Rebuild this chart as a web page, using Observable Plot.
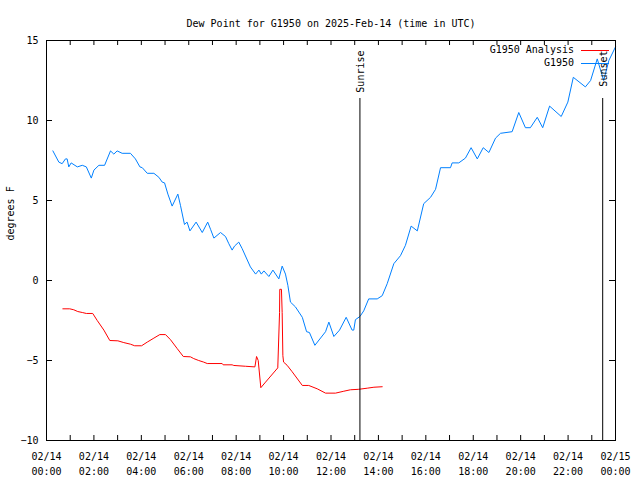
<!DOCTYPE html>
<html><head><meta charset="utf-8">
<script src="https://cdn.jsdelivr.net/npm/d3@7"></script>
<script src="https://cdn.jsdelivr.net/npm/@observablehq/plot@0.6"></script>
<style>body{margin:0;background:#fff} svg{display:block}</style>
</head><body><div id="chart"></div>
<script>
const title = "Dew Point for G1950 on 2025-Feb-14 (time in UTC)";
const yLabel = "degrees F";
const seriesNames = ["G1950 Analysis", "G1950"];
const seriesColors = ["#ff0000", "#0080ff"];

const analysisHours = [0.69,0.98,1.15,1.32,1.51,1.68,1.95,2.14,2.42,2.67,3.01,3.26,3.54,3.72,4.01,4.25,4.53,4.78,5.02,5.23,5.51,5.77,6.07,6.21,6.42,6.63,6.78,7.41,7.45,7.83,7.90,8.39,8.79,8.86,8.93,9.04,9.24,9.755,9.83,9.84,9.91,9.94,9.97,10.0,10.15,10.36,10.79,11.06,11.42,11.77,12.19,12.54,12.82,13.17,13.53,13.81,14.16];
const analysisValues = [-1.77,-1.77,-1.83,-1.94,-2.0,-2.06,-2.06,-2.5,-3.1,-3.75,-3.77,-3.88,-3.98,-4.08,-4.08,-3.85,-3.6,-3.38,-3.38,-3.7,-4.25,-4.75,-4.77,-4.88,-5.0,-5.1,-5.19,-5.19,-5.27,-5.27,-5.31,-5.36,-5.4,-4.75,-5.0,-6.7,-6.35,-5.46,-2.0,-0.55,-0.55,-2.0,-4.7,-5.1,-5.3,-5.7,-6.56,-6.56,-6.77,-7.04,-7.04,-6.92,-6.83,-6.8,-6.73,-6.67,-6.64];

const stationHours = [0.27,0.52,0.66,0.80,0.87,0.94,1.04,1.30,1.51,1.68,1.89,2.00,2.21,2.45,2.70,2.84,2.98,3.19,3.54,3.75,3.94,4.04,4.25,4.53,4.74,4.88,4.98,5.12,5.30,5.54,5.65,5.82,5.93,6.05,6.31,6.57,6.80,6.92,7.06,7.34,7.55,7.69,7.83,7.93,8.11,8.25,8.60,8.82,8.96,9.06,9.17,9.38,9.55,9.80,9.94,10.08,10.18,10.29,10.50,10.79,10.97,11.09,11.32,11.77,11.91,12.12,12.36,12.64,12.89,12.96,13.03,13.22,13.38,13.59,13.95,14.16,14.37,14.65,14.93,15.14,15.38,15.64,15.91,16.20,16.41,16.62,17.04,17.11,17.39,17.67,17.91,18.17,18.42,18.66,18.94,19.15,19.64,19.92,20.20,20.41,20.70,20.93,21.22,21.71,21.99,22.22,22.73,22.95,23.23,23.50,23.72,24.0];
const stationValues = [8.1,7.4,7.3,7.6,7.6,7.1,7.35,7.1,7.2,7.1,6.4,6.9,7.2,7.2,8.1,7.9,8.1,7.95,7.95,7.6,7.1,7.05,6.7,6.7,6.45,6.15,6.1,5.4,4.65,5.4,4.7,3.5,3.65,3.1,3.65,3.0,3.65,3.2,2.65,3.0,2.75,2.3,1.9,2.15,2.4,2.0,0.85,0.4,0.65,0.4,0.6,0.25,0.65,0.1,0.9,0.4,-0.3,-1.35,-1.65,-2.3,-3.2,-3.25,-4.05,-3.2,-2.6,-3.5,-3.1,-2.3,-3.1,-3.1,-2.45,-2.25,-1.9,-1.15,-1.15,-0.95,-0.2,1.05,1.55,2.2,3.4,3.1,4.8,5.2,5.7,7.05,7.05,7.35,7.35,7.65,8.3,7.6,8.3,8.0,8.9,9.2,9.3,10.5,9.55,9.55,10.2,9.55,10.9,10.25,11.15,12.7,12.1,12.5,13.85,12.5,13.75,14.6];

const eventNames = ["Sunrise", "Sunset"];
const eventHours = [13.22, 23.46];
const yTicks = [-10, -5, 0, 5, 10, 15];
const yDomain = [-10, 15];

const dayStart = Date.UTC(2025, 1, 14);
const toDate = h => new Date(dayStart + h * 3600000);
const xDomain = [toDate(0), toDate(24)];
const hourTicks = d3.utcHour.range(toDate(0), toDate(24.01));
const labelTicks = d3.utcHour.every(2).range(toDate(0), toDate(24.01));
const fmt = d3.utcFormat("%m/%d\n%H:%M");

const analysis = analysisHours.map((h, i) => ({t: toDate(h), v: analysisValues[i]}));
const station = stationHours.map((h, i) => ({t: toDate(h), v: stationValues[i]}));
const events = eventHours.map((h, i) => ({t: toDate(h), name: eventNames[i]}));

const W = 640, H = 480, mL = 46, mR = 25, mT = 40, mB = 40;
const frameW = W - mL - mR, frameH = H - mT - mB;
const font = "DejaVu Sans Mono";

function legendMark(index, scales, values, dims) {
  const g = d3.create("svg:g").attr("font-family", font).attr("font-size", 10);
  seriesNames.forEach((n, i) => {
    const y = dims.marginTop + 10 + i * 13;
    const xr = dims.width - dims.marginRight - 6;
    g.append("line").attr("x1", xr - 28).attr("x2", xr).attr("y1", y + 0.5).attr("y2", y + 0.5)
      .attr("stroke", seriesColors[i]);
    g.append("text").attr("x", xr - 35).attr("y", y).attr("dy", "0.32em")
      .attr("text-anchor", "end").attr("fill", "black").text(n);
  });
  return g.node();
}

const chart = Plot.plot({
  width: W, height: H,
  marginLeft: mL, marginRight: mR, marginTop: mT, marginBottom: mB,
  style: {fontFamily: font, fontSize: "10px", background: "white"},
  x: {type: "utc", domain: xDomain},
  y: {domain: yDomain},
  marks: [
    Plot.line(analysis, {x: "t", y: "v", stroke: seriesColors[0], strokeWidth: 1}),
    Plot.line(station, {x: "t", y: "v", stroke: seriesColors[1], strokeWidth: 1}),
    Plot.ruleX(events, {x: "t", stroke: "black", insetTop: 58, strokeWidth: 1}),
    Plot.text(events, {x: "t", text: "name", frameAnchor: "top", dx: -3, dy: 10, rotate: -90, textAnchor: "end", fill: "black", fontSize: 10}),
    Plot.tickX(hourTicks, {x: d => d, insetTop: frameH - 5, stroke: "black"}),
    Plot.tickX(hourTicks, {x: d => d, insetBottom: frameH - 5, stroke: "black"}),
    Plot.tickY(yTicks, {y: d => d, insetRight: frameW - 6, stroke: "black"}),
    Plot.tickY(yTicks, {y: d => d, insetLeft: frameW - 6, stroke: "black"}),
    Plot.axisX(labelTicks, {anchor: "bottom", tickSize: 0, tickPadding: 9, tickFormat: d => fmt(d), label: null, fill: "black", lineHeight: 1.5}),
    Plot.axisY(yTicks, {anchor: "left", tickSize: 0, tickPadding: 8, label: null, fill: "black"}),
    Plot.text([yLabel], {frameAnchor: "left", dx: -36, rotate: -90, fill: "black"}),
    Plot.text([title], {frameAnchor: "top", dy: -21, fill: "black"}),
    Plot.frame({stroke: "black"}),
    legendMark
  ]
});
document.getElementById("chart").append(chart);
</script>
</body></html>
